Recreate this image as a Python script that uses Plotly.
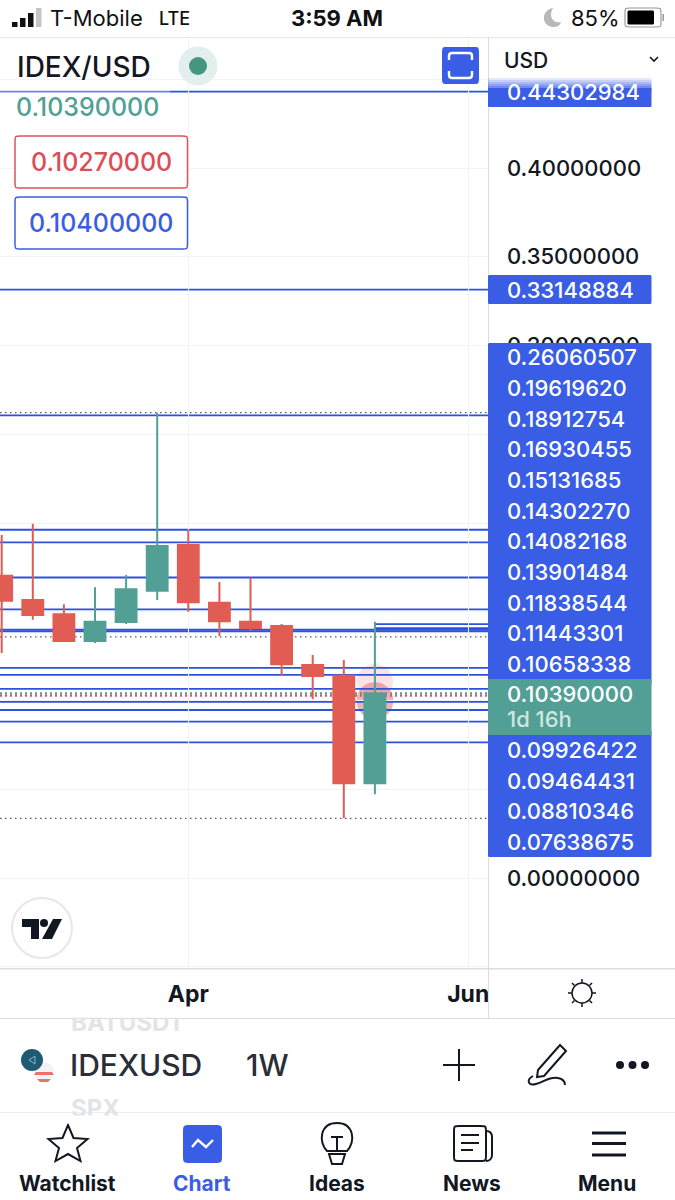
import re
import plotly.graph_objects as go

# ==== Chart data ====
candle_index = [0, 1, 2, 3, 4, 5, 6, 7, 8, 9, 10, 11, 12]
opens = [0.17031, 0.15662, 0.14856, 0.13352, 0.14423, 0.16186, 0.18761, 0.15510, 0.14439, 0.14197, 0.12000, 0.11397, 0.05335]
highs = [0.19324, 0.19961, 0.15420, 0.16377, 0.17070, 0.26214, 0.19606, 0.16676, 0.16918, 0.14310, 0.12563, 0.12282, 0.14439]
lows = [0.12676, 0.14552, 0.13352, 0.13239, 0.14310, 0.15662, 0.15003, 0.13634, 0.13932, 0.11380, 0.10068, 0.03363, 0.04715]
closes = [0.15623, 0.14817, 0.13352, 0.14439, 0.16265, 0.18704, 0.15532, 0.14462, 0.14085, 0.12039, 0.11380, 0.05335, 0.10390]

top_levels = [0.44302984, 0.33148884]
upper_levels = [0.26060507, 0.19619620, 0.18912754, 0.16930455, 0.15131685, 0.14302270,
                0.14082168, 0.13901484, 0.11838544, 0.11443301, 0.10658338]
lower_levels = [0.09926422, 0.09464431, 0.08810346, 0.07638675]
short_levels = [0.14302270, 0.14082168]
unlabelled_levels = [0.13990]
dotted_levels = [0.26214, 0.13580, 0.03363]

last_price = 0.10390000
bid_price = 0.10270000
ask_price = 0.10400000
countdown = "1d 16h"

# the 0.05-0.25 labels sit behind the blue level tags in the app, so they stay blank
price_ticks = [-0.05, 0.0, 0.05, 0.10, 0.15, 0.20, 0.25, 0.30, 0.35, 0.40, 0.45]
price_tick_text = ["", "0.00000000", "", "", "", "", "", "0.30000000", "0.35000000", "0.40000000", ""]
month_ticks = [6, 15]
month_labels = ["Apr", "Jun"]

nav_labels = ["Watchlist", "Chart", "Ideas", "News", "Menu"]

# ==== Colours / page ====
W, H = 675, 1200
BLUE = "#3A5DE6"
LINE_BLUE = "#2C50E0"
TEAL = "#52A095"
RED = "#E15C53"
INK = "#131722"
GRID = "#F1F3F6"
EDGE = "#DADCE0"
FONT = "Inter"

PLOT_RIGHT = 488
PLOT_TOP = 37
PLOT_BOTTOM = 969
Y_ZERO = 878
PX_PER_PRICE = 1775
X_FIRST = 1.7
X_STEP = 31.1


def px(x):
    return x / W


def py(y):
    return 1 - y / H


def page_path(d):
    # path written in screen pixels -> paper coordinates
    return re.sub(r"(-?[\d.]+)[ ,](-?[\d.]+)",
                  lambda m: f"{px(float(m[1])):.5f} {py(float(m[2])):.5f}", d)


shapes = []
annotations = []


def rect(x0, y0, x1, y1, fill, line=None, lw=0, opacity=1):
    shapes.append(dict(type="rect", xref="paper", yref="paper", x0=px(x0), x1=px(x1), y0=py(y0), y1=py(y1),
                       fillcolor=fill, opacity=opacity, line=dict(color=line or fill, width=lw)))


def circle(cx, cy, r, fill=None, line=None, lw=0, opacity=1):
    shapes.append(dict(type="circle", xref="paper", yref="paper", x0=px(cx - r), x1=px(cx + r),
                       y0=py(cy - r), y1=py(cy + r), fillcolor=fill or "rgba(0,0,0,0)", opacity=opacity,
                       line=dict(color=line or "rgba(0,0,0,0)", width=lw)))


def path(d, fill=None, line=None, lw=0):
    shapes.append(dict(type="path", xref="paper", yref="paper", path=page_path(d),
                       fillcolor=fill or "rgba(0,0,0,0)", line=dict(color=line or "rgba(0,0,0,0)", width=lw)))


def rounded(x0, y0, x1, y1, r, fill=None, line=None, lw=0):
    path(f"M{x0 + r} {y0} L{x1 - r} {y0} C{x1} {y0} {x1} {y0} {x1} {y0 + r} L{x1} {y1 - r} "
         f"C{x1} {y1} {x1} {y1} {x1 - r} {y1} L{x0 + r} {y1} C{x0} {y1} {x0} {y1} {x0} {y1 - r} "
         f"L{x0} {y0 + r} C{x0} {y0} {x0} {y0} {x0 + r} {y0} Z", fill, line, lw)


def text(x, y, s, size, color=INK, weight=400, anchor="left", family=FONT):
    annotations.append(dict(xref="paper", yref="paper", x=px(x), y=py(y), text=s, showarrow=False,
                            xanchor=anchor, yanchor="middle", borderpad=0,
                            font=dict(family=family, size=size, color=color, weight=weight)))


def cover(x0, y0, x1, y1):
    # white block over a text, keeps the list rows cut off at their edge
    annotations.append(dict(xref="paper", yref="paper", x=px(x0), y=py(y0), xanchor="left", yanchor="top",
                            text=" ", showarrow=False, width=x1 - x0, height=y1 - y0, bgcolor="white",
                            borderpad=0, font=dict(size=4)))


# ==== Price levels, under the candles ====
x_left = (0 - X_FIRST) / X_STEP
x_right = (PLOT_RIGHT - X_FIRST) / X_STEP


def level(price, start=x_left, color=LINE_BLUE, width=1.8, dash="solid"):
    shapes.append(dict(type="line", layer="below", xref="x", yref="y", x0=start, x1=x_right, y0=price, y1=price,
                       line=dict(color=color, width=width, dash=dash)))


# pulse behind the live candle
for r, alpha, dy in [(18, 0.18, 0.0065), (18.5, 0.48, -0.004)]:
    shapes.append(dict(type="circle", layer="below", xref="x", yref="y", xsizemode="pixel", ysizemode="pixel",
                       xanchor=candle_index[-1], yanchor=last_price + dy, x0=-r, x1=r, y0=-r, y1=r,
                       fillcolor=f"rgba(225,92,110,{alpha})", line=dict(width=0)))

for p in top_levels + upper_levels + lower_levels + unlabelled_levels:
    if p not in short_levels:
        level(p)
for p in short_levels:
    level(p, start=candle_index[-1])
for p in dotted_levels:
    level(p, color="#555B66", width=1.3, dash="1.5px,3.5px")
level(ask_price, color="#555B66", width=2, dash="2px,3px")
level(bid_price, color="#C9605C", width=2, dash="2px,3px")
level(last_price, color=TEAL, width=1.5, dash="2px,3px")

# ==== Price axis panel ====
rect(0, 37, W, 37.5, "#CFCFCF")
rect(PLOT_RIGHT, 37, PLOT_RIGHT + 1, 1019, EDGE)
rect(0, 968, W, 969.5, EDGE)
rect(0, 1018, W, 1019, EDGE)
rect(0, 1112, W, 1113, "#EDEEF0")

# top label with the fade at its upper edge
rounded(488, 88, 651.5, 107, 2, BLUE)
for i in range(6):
    rect(488, 78 + 2 * i, 651.5, 80 + 2 * i, BLUE, opacity=(i + 1) / 7)
rect(0, 89, 170, 94, "white", opacity=0.3)
rounded(488, 275, 651.5, 304, 3, BLUE)
rounded(488, 343, 651.5, 685, 3, BLUE)
rounded(488, 730, 651.5, 857, 3, BLUE)
rounded(488, 679, 651.5, 735, 2, TEAL)

text(506, 92, f"{top_levels[0]:.8f}", 22, "white", 500)
text(506, 290, f"{top_levels[1]:.8f}", 22, "white", 500)
for i, p in enumerate(upper_levels):
    text(506, 357.5 + 30.65 * i, f"{p:.8f}", 22, "white", 500)
text(506, 694, f"{last_price:.8f}", 22, "white", 500)
text(506, 719, countdown, 22, "#CFE6E1", 500)
for i, p in enumerate(lower_levels):
    text(506, 750 + 30.65 * i, f"{p:.8f}", 22, "white", 500)

text(503, 61, "USD", 21, INK, 500)
path("M650 57 L654 61 L658 57", line=INK, lw=1.6)

# ==== Header over the chart ====
text(16, 67, "IDEX/USD", 28, INK, 500)
circle(198, 66, 19.5, "#E2EFEC")
circle(198, 66, 9, "#45967F")
text(15, 107, f"{last_price:.8f}", 25, TEAL, 500)
rounded(15, 136, 187.5, 188, 6, "white", "#D9555B", 1.5)
text(101, 162, f"{bid_price:.8f}", 25, "#DC4E55", 500, "center")
rounded(15, 197, 187.5, 249, 6, "white", BLUE, 1.5)
text(101, 223, f"{ask_price:.8f}", 25, BLUE, 500, "center")
rounded(442, 47, 479, 84, 7, BLUE)
path("M449 60 L449 56 C449 54 450 53 452 53 L469 53 C471 53 472 54 472 56 L472 60 "
     "M472 71 L472 75 C472 77 471 78 469 78 L452 78 C450 78 449 77 449 75 L449 71",
     line="white", lw=2.4)

# ==== Status bar ====
for i, h in enumerate([5, 9, 14, 19]):
    rect(12 + 8 * i, 27 - h, 17.5 + 8 * i, 27, "#C4C4C4" if i == 3 else "#111111")
text(49, 18, "T-Mobile", 22, "#111111")
text(158, 18, "LTE", 18, "#111111", 500)
text(337, 18, "3:59 AM", 22, "#111111", 700, "center")
path("M553 8 C541 10 541 26 553 27 C558 27 560 25 561 22 C553 24 548 16 553 8 Z", "#B8B8B8")
text(570, 18, "85%", 22, "#111111")
rounded(625, 8, 661, 27, 5, None, "#9A9A9A", 1.2)
rounded(627.5, 10.5, 654, 24.5, 3, "#000000")
rect(662.5, 14, 664, 21, "#9A9A9A")

# ==== TradingView badge ====
circle(42, 928, 30, "white", "#E6E7EA", 2)
path("M22 919 L39 919 L39 939 L31 939 L31 927 L22 927 Z", INK)
circle(44, 923, 4, INK)
path("M53 919 L62 919 L52 939 L42 939 Z", INK)

# ==== Sun icon on the time axis ====
circle(582, 993, 10, None, INK, 1.5)
for seg in ["M582 979 L582 983", "M582 1003 L582 1007", "M568 993 L572 993", "M592 993 L596 993",
            "M572 983 L574.5 985.5", "M592 983 L589.5 985.5", "M572 1003 L574.5 1000.5", "M592 1003 L589.5 1000.5"]:
    path(seg, line=INK, lw=1.5)

# ==== Symbol row ====
text(70, 1022, "BATUSDT", 24, "#E3E4E8", 700)
cover(60, 1009, 165, 1016)
cover(165, 1010, 220, 1016)
text(70, 1108, "SPX", 24, "#E3E4E8", 700)
cover(60, 1115, 220, 1122)
circle(44, 1072, 10, "#F3F3F5")
path("M36 1072 L52 1072 L54 1075 L34 1075 Z", "#E8726C")
path("M37 1079 L51 1079 L48 1082 L40 1082 Z", "#E8726C")
circle(32, 1060, 11, "#1E5A73")
path("M29 1060 L35 1056 L35 1064 Z", None, "#8FB8C6", 1)
text(69, 1065, "IDEXUSD", 30, "#2A2E39", 500)
text(245, 1065, "1W", 30, "#2A2E39", 500)
path("M443 1065 L475 1065 M459 1049 L459 1081", line=INK, lw=2)
path("M560 1045 L566 1051 L544 1076 L537 1077 L538 1070 Z", None, INK, 2)
path("M533 1076 C526 1080 528 1086 536 1084 C544 1082 550 1076 558 1078 C563 1079 565 1082 565 1085", None, INK, 2)
for cx in [620, 632.5, 645]:
    circle(cx, 1065, 4, INK)

# ==== Bottom navigation ====
path("M68 1125 L73.5 1138 L87.5 1139 L77 1148 L80.5 1161 L68 1154 L55.5 1161 L59 1148 L48.5 1139 L62.5 1138 Z",
     None, INK, 2)
rounded(183, 1125, 222, 1163, 9, BLUE)
path("M192 1147 L198 1140 L206 1147 L213 1140", None, "white", 2.4)
path("M327 1151 C318 1142 320 1123 337 1123 C354 1123 356 1142 347 1151 L327 1151 Z", None, INK, 2)
path("M331 1137 L343 1137 M337 1137 L337 1151", None, INK, 2)
path("M329 1154 L345 1154 L342 1164 L332 1164 Z", None, INK, 2)
rounded(454, 1126, 486, 1161, 6, None, INK, 2)
path("M486 1131 C491 1131 492 1134 492 1137 L492 1155 C492 1159 489 1161 486 1161", None, INK, 2)
path("M461 1135 L479 1135 M461 1143 L479 1143 M461 1150 L473 1150", None, INK, 2)
for y in [1133, 1143.5, 1155]:
    rect(592, y - 1.5, 626, y + 1.5, INK)

for x, label, color in zip([67, 202, 337, 472, 607], nav_labels, [INK, BLUE, INK, INK, INK]):
    text(x, 1183, label, 21, color, 700, "center")

# ==== Figure ====
fig = go.Figure(go.Candlestick(
    x=candle_index, open=opens, high=highs, low=lows, close=closes,
    increasing=dict(line=dict(color=TEAL, width=2), fillcolor=TEAL),
    decreasing=dict(line=dict(color=RED, width=2), fillcolor=RED),
    whiskerwidth=0, hoverinfo="skip", showlegend=False,
))

fig.update_layout(
    width=W, height=H, autosize=False, margin=dict(l=0, r=0, t=0, b=0),
    paper_bgcolor="white", plot_bgcolor="white", showlegend=False, boxgap=0.33, boxgroupgap=0,
    shapes=shapes, annotations=annotations,
    xaxis=dict(
        domain=[0, PLOT_RIGHT / W], range=[x_left, x_right], rangeslider=dict(visible=False),
        tickmode="array", tickvals=month_ticks, ticktext=month_labels,
        showgrid=True, gridcolor=GRID, gridwidth=1, zeroline=False, showline=False, ticks="",
        tickfont=dict(family=FONT, size=23, color=INK, weight=700), ticklabelstandoff=9,
    ),
    yaxis=dict(
        domain=[py(PLOT_BOTTOM), py(PLOT_TOP)], side="right",
        range=[(Y_ZERO - PLOT_BOTTOM) / PX_PER_PRICE, (Y_ZERO - PLOT_TOP) / PX_PER_PRICE],
        tickmode="array", tickvals=price_ticks, ticktext=price_tick_text,
        showgrid=True, gridcolor=GRID, gridwidth=1, zeroline=False, showline=False, ticks="",
        tickfont=dict(family=FONT, size=22, color=INK, weight=500), ticklabelstandoff=18,
    ),
)

fig.write_html("out.html", config=dict(displayModeBar=False),
               post_script="document.body.style.margin='0';document.body.style.overflow='hidden';")
